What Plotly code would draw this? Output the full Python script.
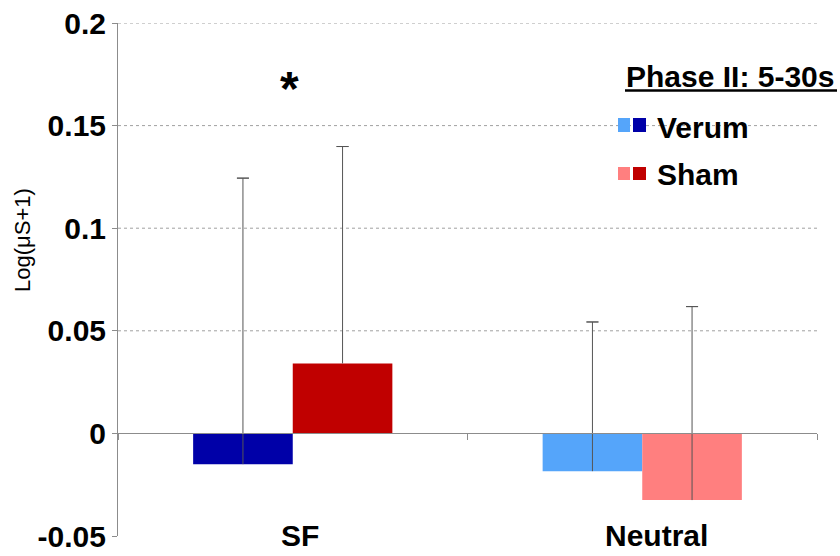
import plotly.graph_objects as go

# ---------------- data ----------------
categories = ["SF", "Neutral"]
verum_values = [-0.015, -0.0184]
sham_values = [0.0341, -0.0325]
verum_err_plus = [0.1394, 0.0727]
sham_err_plus = [0.1057, 0.0943]
y_tickvals = [-0.05, 0, 0.05, 0.1, 0.15, 0.2]
y_ticktext = ["-0.05", "0", "0.05", "0.1", "0.15", "0.2"]
grid_values = [0.05, 0.1, 0.15, 0.2]
significance_label = "*"
legend_title = "Phase II: 5-30s"
series_names = ["Verum", "Sham"]
y_title = "Log(μS+1)"

# ---------------- styles ----------------
verum_colors = ["#0000A8", "#55A5FA"]
sham_colors = ["#C00000", "#FF7F7F"]
FONT = "Liberation Sans, Arial, Helvetica, sans-serif"
AXIS_GRAY = "#8c8c8c"
ERR_COLOR = "#555555"

W, H = 840, 556
ML, MR, MT, MB = 118, 23, 23, 20
PW, PH = W - ML - MR, H - MT - MB


def px(x):
    return (x - ML) / PW


def py(y):
    return (H - MB - y) / PH


fig = go.Figure()

# main bars (error line only, no caps)
for name, vals, errs, cols, grp in [
    (series_names[0], verum_values, verum_err_plus, verum_colors, "v"),
    (series_names[1], sham_values, sham_err_plus, sham_colors, "s"),
]:
    fig.add_trace(go.Bar(
        x=categories, y=vals, name=name, offsetgroup=grp,
        marker=dict(color=cols, line=dict(width=0)),
        error_y=dict(type="data", symmetric=False, array=errs,
                     arrayminus=[0] * len(errs), color=ERR_COLOR,
                     thickness=1, width=0),
    ))

# caps on top of error bars (transparent helper bars)
for vals, errs, grp in [
    (verum_values, verum_err_plus, "v"),
    (sham_values, sham_err_plus, "s"),
]:
    tops = [v + e for v, e in zip(vals, errs)]
    fig.add_trace(go.Bar(
        x=categories, y=tops, offsetgroup=grp, showlegend=False,
        marker=dict(color="rgba(0,0,0,0)", line=dict(width=0)),
        hoverinfo="skip",
        error_y=dict(type="data", symmetric=False, array=[0] * len(tops),
                     arrayminus=[0] * len(tops), color=ERR_COLOR,
                     thickness=1, width=6),
    ))

# dotted gridlines
for g in grid_values:
    fig.add_shape(type="line", xref="paper", x0=0, x1=1, yref="y", y0=g, y1=g,
                  line=dict(color="#a0a0a0", width=1, dash="dot"), layer="below")

fig.update_layout(
    width=W, height=H,
    margin=dict(l=ML, r=MR, t=MT, b=MB, autoexpand=False),
    paper_bgcolor="white", plot_bgcolor="white",
    barmode="group", bargap=0.43, bargroupgap=0,
    showlegend=False,
    font=dict(family=FONT, color="black"),
)

fig.update_yaxes(
    range=[-0.05, 0.2], tickvals=y_tickvals, ticktext=y_ticktext,
    tickfont=dict(size=30, weight="bold", family=FONT, color="black"),
    showline=True, linecolor=AXIS_GRAY, linewidth=1,
    ticks="outside", ticklen=5, tickcolor=AXIS_GRAY,
    showgrid=False, zeroline=False, automargin=False,
)
fig.update_xaxes(
    anchor="free", position=0.2,
    showline=True, linecolor=AXIS_GRAY, linewidth=1,
    ticks="outside", tickson="boundaries", ticklen=6, tickcolor=AXIS_GRAY,
    showticklabels=False, showgrid=False, zeroline=False, automargin=False,
)

ann = []
# y title
ann.append(dict(text=y_title, textangle=-90, xref="paper", yref="paper",
                x=px(22), y=py(240), xanchor="center", yanchor="middle",
                showarrow=False,
                font=dict(size=22, family=FONT, color="black")))
# significance
ann.append(dict(text=significance_label, xref="x", yref="y",
                x=categories[0], xshift=-3, y=0.168, showarrow=False,
                font=dict(size=48, weight="bold", family=FONT, color="black")))
# category labels
for cat, shift in zip(categories, [7, 14]):
    ann.append(dict(text=cat, xref="x", yref="paper", x=cat, xshift=shift,
                    y=py(535), yanchor="middle", showarrow=False,
                    font=dict(size=30, weight="bold", family=FONT, color="black")))
# legend title
ann.append(dict(text=legend_title, xref="paper", yref="paper", x=px(624),
                y=py(76), xanchor="left", yanchor="middle", showarrow=False,
                font=dict(size=30, weight="bold", family=FONT, color="black")))
# legend entries
for name, yc in zip(series_names, [127, 174]):
    ann.append(dict(text=name, xref="paper", yref="paper", x=px(655),
                    y=py(yc), xanchor="left", yanchor="middle", showarrow=False,
                    font=dict(size=30, weight="bold", family=FONT, color="black")))
fig.update_layout(annotations=ann)

# legend title underline
fig.add_shape(type="line", xref="paper", yref="paper", x0=px(625), x1=px(837),
              y0=py(90.5), y1=py(90.5), line=dict(color="black", width=2.5))
# legend swatches
for (light, dark), (top, bot) in zip([(verum_colors[1], verum_colors[0]),
                                      (sham_colors[1], sham_colors[0])],
                                     [(118, 132), (167, 180)]):
    fig.add_shape(type="rect", xref="paper", yref="paper", x0=px(618), x1=px(630),
                  y0=py(bot), y1=py(top), fillcolor=light, line=dict(width=0))
    fig.add_shape(type="rect", xref="paper", yref="paper", x0=px(633), x1=px(646),
                  y0=py(bot), y1=py(top), fillcolor=dark, line=dict(width=0))

fig.write_html(
    "out.html",
    config={"displayModeBar": False},
    post_script="document.body.style.margin='0';document.body.style.overflow='hidden';",
)
